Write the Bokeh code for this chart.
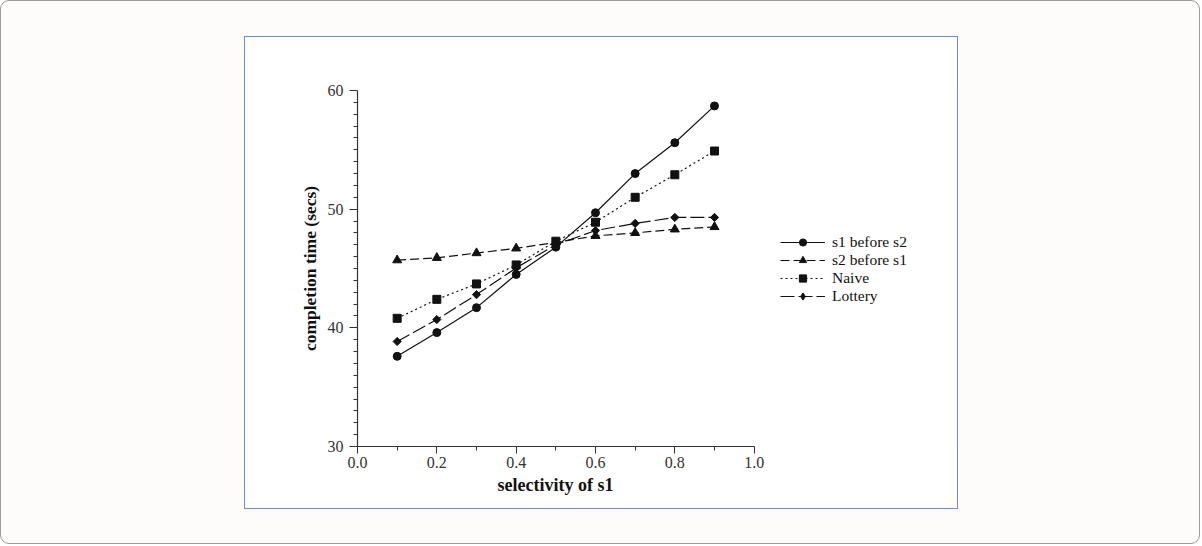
from bokeh.plotting import figure
from bokeh.models import Legend, LegendItem, Spacer, FixedTicker, Range1d, Title
from bokeh.layouts import column, row
from bokeh.embed import file_html
from bokeh.resources import INLINE
import math

# ---- data ----
selectivity = [0.1, 0.2, 0.3, 0.4, 0.5, 0.6, 0.7, 0.8, 0.9]
s1_before_s2 = [37.6, 39.6, 41.7, 44.5, 46.8, 49.7, 53.0, 55.6, 58.7]
s2_before_s1 = [45.7, 45.9, 46.3, 46.7, 47.2, 47.75, 48.0, 48.3, 48.5]
naive = [40.8, 42.4, 43.7, 45.3, 47.3, 48.9, 51.0, 52.9, 54.9]
lottery = [38.85, 40.7, 42.8, 45.05, 47.0, 48.2, 48.8, 49.3, 49.3]
series_names = ["s1 before s2", "s2 before s1", "Naive", "Lottery"]
x_ticks = [0.0, 0.2, 0.4, 0.6, 0.8, 1.0]
x_minor = [0.1, 0.3, 0.5, 0.7, 0.9]
y_ticks = [30, 40, 50, 60]
y_minor = [v for v in range(31, 60) if v % 10 != 0]
x_label = "selectivity of s1"
y_label = "completion time (secs)"

FONT = "Liberation Serif"
INK = "#111111"

# frame extends right of x=1.0 to leave room for the legend; the axis stops at 1.0
p = figure(width=714, height=473, output_backend="svg", toolbar_location=None,
           x_range=Range1d(0, 1.5), y_range=Range1d(30, 60),
           min_border_left=112, min_border_right=7, min_border_top=53, min_border_bottom=64,
           background_fill_color="white", border_fill_color="white",
           styles={"border": "1px solid #6f86f0"})
p.outline_line_color = None
p.xgrid.visible = False
p.ygrid.visible = False

p.xaxis.ticker = FixedTicker(ticks=x_ticks, minor_ticks=x_minor)
p.yaxis.ticker = FixedTicker(ticks=y_ticks, minor_ticks=y_minor)
p.xaxis.bounds = (0, 1)
p.xaxis.major_label_overrides = {t: f"{t:.1f}" for t in x_ticks}

for ax in (p.xaxis[0], p.yaxis[0]):
    ax.axis_line_color = "#333333"
    ax.axis_line_width = 1.2
    ax.major_tick_line_color = "#333333"
    ax.minor_tick_line_color = "#333333"
    ax.major_tick_in = 0
    ax.major_tick_out = 7
    ax.minor_tick_in = 0
    ax.minor_tick_out = 4
    ax.major_label_text_font = FONT
    ax.major_label_text_font_size = "16px"
    ax.major_label_text_color = "#333333"
    ax.axis_label_text_font = FONT
    ax.axis_label_text_font_size = "17.5px"
    ax.axis_label_text_font_style = "bold"
    ax.axis_label_text_color = INK

p.yaxis.major_tick_out = 8
p.xaxis.major_label_standoff = 3
p.yaxis.major_label_standoff = 6
p.yaxis.axis_label = y_label
p.yaxis.axis_label_standoff = 5

# x-axis title, centred under the 0..1 axis span (frame is wider than the axis)
xt = Title(text=x_label, align="left", offset=140, standoff=4,
           text_font=FONT, text_font_size="18px", text_font_style="bold", text_color=INK)
p.add_layout(xt, "below")

lw = 1.2
l1 = p.line(selectivity, s1_before_s2, line_color=INK, line_width=lw)
m1 = p.scatter(selectivity, s1_before_s2, marker="circle", size=8, color=INK)
l2 = p.line(selectivity, s2_before_s1, line_color=INK, line_width=lw, line_dash="9 4")
m2 = p.scatter(selectivity, s2_before_s1, marker="triangle", size=9, color=INK)
l3 = p.line(selectivity, naive, line_color=INK, line_width=lw, line_dash="2 3")
m3 = p.scatter(selectivity, naive, marker="square", size=8, color=INK)
l4 = p.line(selectivity, lottery, line_color=INK, line_width=lw, line_dash="14 4")
m4 = p.scatter(selectivity, lottery, marker="square", size=5.8, angle=math.pi / 4, color=INK)
# legend swatch for the diamond marker (legends draw markers unrotated); hidden in the plot
m4_key = p.scatter(selectivity, lottery, marker="diamond", size=9, color=INK, visible=False)

legend = Legend(items=[
    LegendItem(label=series_names[0], renderers=[l1, m1]),
    LegendItem(label=series_names[1], renderers=[l2, m2]),
    LegendItem(label=series_names[2], renderers=[l3, m3]),
    LegendItem(label=series_names[3], renderers=[l4, m4_key]),
], location=(423, 141))
legend.label_text_font = FONT
legend.label_text_font_size = "15.5px"
legend.label_text_color = INK
legend.glyph_width = 45
legend.glyph_height = 18
legend.label_height = 18
legend.spacing = 0
legend.padding = 0
legend.margin = 0
legend.label_standoff = 7
legend.border_line_color = None
legend.background_fill_alpha = 0
legend.inactive_fill_alpha = 0
p.add_layout(legend)

inner = row(Spacer(width=243, height=10), p, Spacer(width=1200 - 243 - 716, height=10))
root = column(Spacer(width=10, height=35), inner, Spacer(width=10, height=544 - 35 - 475),
              styles={"background-color": "#fdfcfa", "border": "1px solid #9a9a9a",
                      "border-radius": "9px"})

open("out.html", "w").write(file_html(root, INLINE))
